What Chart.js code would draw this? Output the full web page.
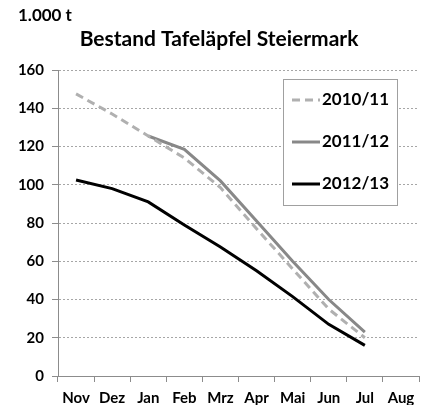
<!DOCTYPE html>
<html>
<head>
<meta charset="utf-8">
<script src="https://cdn.jsdelivr.net/npm/chart.js@4/dist/chart.umd.min.js"></script>
<style>
    html, body { margin: 0; padding: 0; background: #fff; }
    #wrap { width: 424px; height: 405px; }
</style>
</head>
<body>
<div id="wrap"><canvas id="myChart" width="424" height="405"></canvas></div>
<script>
// Daten (1.000 t)
let monate = ['Nov', 'Dez', 'Jan', 'Feb', 'Mrz', 'Apr', 'Mai', 'Jun', 'Jul', 'Aug'];
let bestand2010 = [147.5, 137, 125.5, 114, 98.5, 77, 56, 35, 20, null];
let bestand2011 = [null, null, 125.5, 118.5, 102, 81, 60, 40, 23, null];
let bestand2012 = [102.5, 98, 91, 79, 67.5, 55, 41.5, 27, 16, null];
let yTicks = [0, 20, 40, 60, 80, 100, 120, 140, 160];

let titel = 'Bestand Tafeläpfel Steiermark';
let einheit = '1.000 t';
let schrift = "Lato, 'Liberation Sans', sans-serif";

// Titel, Einheit oben links und Legende im Diagramm
let extras = {
    id: 'extras',
    afterDraw(chart) {
        let ctx = chart.ctx;
        let area = chart.chartArea;
        ctx.save();
        ctx.fillStyle = '#000';
        ctx.textBaseline = 'middle';
        ctx.font = 'bold 17px ' + schrift;
        ctx.textAlign = 'left';
        ctx.fillText(einheit, 18, 16);

        ctx.font = 'bold 21px ' + schrift;
        ctx.textAlign = 'center';
        ctx.fillText(titel, 219, 39);

        // Legende
        ctx.textAlign = 'left';
        let bx = area.right - 136, by = area.top + 9, bw = 114, bh = 126;
        ctx.fillStyle = '#fff';
        ctx.fillRect(bx, by, bw, bh);
        ctx.strokeStyle = '#a0a0a0';
        ctx.lineWidth = 1;
        ctx.strokeRect(bx + 0.5, by + 0.5, bw, bh);
        chart.data.datasets.forEach(function(ds, i) {
            let y = by + 21 + i * 42;
            ctx.beginPath();
            ctx.strokeStyle = ds.borderColor;
            ctx.lineWidth = ds.borderWidth;
            ctx.setLineDash(ds.borderDash || []);
            ctx.moveTo(bx + 9, y);
            ctx.lineTo(bx + 37, y);
            ctx.stroke();
            ctx.setLineDash([]);
            ctx.fillStyle = '#000';
            ctx.font = 'bold 17px ' + schrift;
            ctx.fillText(ds.label, bx + 39, y);
        });
        ctx.restore();
    }
};

let ctx = document.getElementById('myChart').getContext('2d');
let chart = new Chart(ctx, {
    type: 'line',
    data: {
        labels: monate,
        datasets: [{
            label: '2010/11',
            data: bestand2010,
            borderColor: '#b0b0b0',
            borderWidth: 3,
            borderDash: [8, 5],
            pointRadius: 0,
            fill: false
        }, {
            label: '2011/12',
            data: bestand2011,
            borderColor: '#888888',
            borderWidth: 3,
            pointRadius: 0,
            fill: false
        }, {
            label: '2012/13',
            data: bestand2012,
            borderColor: '#000000',
            borderWidth: 3,
            pointRadius: 0,
            fill: false
        }]
    },
    options: {
        responsive: false,
        animation: false,
        layout: { padding: { top: 70, right: 5, left: 0, bottom: 0 } },
        plugins: {
            legend: { display: false },
            tooltip: { enabled: false },
            title: { display: false }
        },
        scales: {
            x: {
                offset: true,
                grid: {
                    offset: true,
                    drawOnChartArea: false,
                    tickLength: 6,
                    tickColor: '#8c8c8c'
                },
                border: { color: '#8c8c8c', width: 1 },
                ticks: {
                    color: '#000',
                    padding: 7,
                    maxRotation: 0,
                    autoSkip: false,
                    font: { family: schrift, size: 15, weight: 'bold' }
                },
                afterFit: function(scale) { scale.height = 29; }
            },
            y: {
                min: 0,
                max: 160,
                afterBuildTicks: function(scale) {
                    scale.ticks = yTicks.map(function(v) { return { value: v }; });
                },
                grid: {
                    color: '#a6a6a6',
                    tickLength: 6,
                    tickColor: '#8c8c8c',
                    tickBorderDash: []
                },
                border: { color: '#8c8c8c', width: 1, dash: [2, 2] },
                ticks: {
                    color: '#000',
                    padding: 8,
                    font: { family: schrift, size: 15, weight: 'bold' }
                },
                afterFit: function(scale) { scale.width = 58; }
            }
        }
    },
    plugins: [extras]
});
</script>
</body>
</html>
